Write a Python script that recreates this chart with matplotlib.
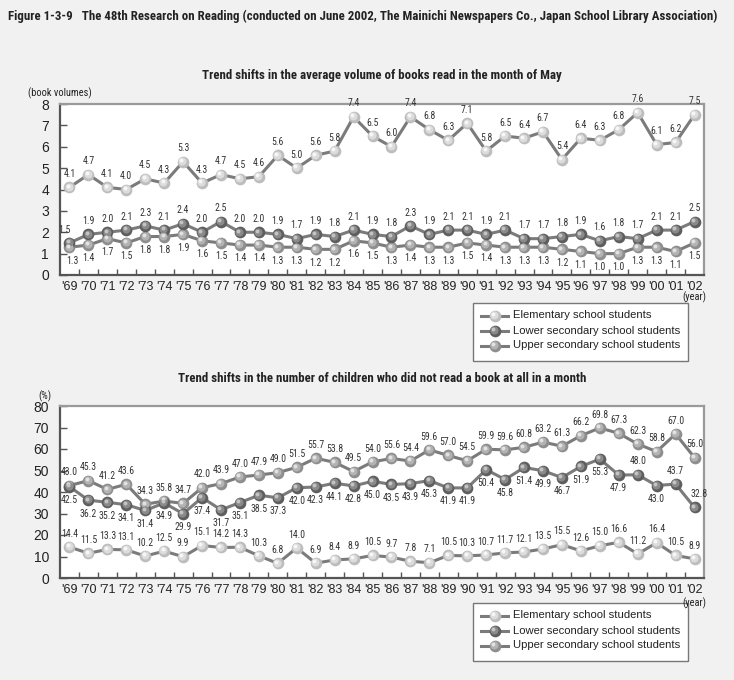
import matplotlib
matplotlib.use("Agg")
import matplotlib.pyplot as plt
from matplotlib import transforms
from matplotlib import font_manager as fm
from matplotlib.lines import Line2D
from matplotlib.patches import Rectangle

years = ["'69", "'70", "'71", "'72", "'73", "'74", "'75", "'76", "'77", "'78", "'79",
         "'80", "'81", "'82", "'83", "'84", "'85", "'86", "'87", "'88", "'89", "'90",
         "'91", "'92", "'93", "'94", "'95", "'96", "'97", "'98", "'99", "'00", "'01", "'02"]

series_names = ["Elementary school students", "Lower secondary school students",
                "Upper secondary school students"]

# Average volume of books read in May
vol_elem = [4.1, 4.7, 4.1, 4.0, 4.5, 4.3, 5.3, 4.3, 4.7, 4.5, 4.6, 5.6, 5.0, 5.6, 5.8, 7.4, 6.5,
            6.0, 7.4, 6.8, 6.3, 7.1, 5.8, 6.5, 6.4, 6.7, 5.4, 6.4, 6.3, 6.8, 7.6, 6.1, 6.2, 7.5]
vol_lower = [1.5, 1.9, 2.0, 2.1, 2.3, 2.1, 2.4, 2.0, 2.5, 2.0, 2.0, 1.9, 1.7, 1.9, 1.8, 2.1, 1.9,
             1.8, 2.3, 1.9, 2.1, 2.1, 1.9, 2.1, 1.7, 1.7, 1.8, 1.9, 1.6, 1.8, 1.7, 2.1, 2.1, 2.5]
vol_upper = [1.3, 1.4, 1.7, 1.5, 1.8, 1.8, 1.9, 1.6, 1.5, 1.4, 1.4, 1.3, 1.3, 1.2, 1.2, 1.6, 1.5,
             1.3, 1.4, 1.3, 1.3, 1.5, 1.4, 1.3, 1.3, 1.3, 1.2, 1.1, 1.0, 1.0, 1.3, 1.3, 1.1, 1.5]

# Percentage of children who did not read a book at all
none_elem = [14.4, 11.5, 13.3, 13.1, 10.2, 12.5, 9.9, 15.1, 14.2, 14.3, 10.3, 6.8, 14.0, 6.9, 8.4,
             8.9, 10.5, 9.7, 7.8, 7.1, 10.5, 10.3, 10.7, 11.7, 12.1, 13.5, 15.5, 12.6, 15.0, 16.6,
             11.2, 16.4, 10.5, 8.9]
none_lower = [42.5, 36.2, 35.2, 34.1, 31.4, 34.9, 29.9, 37.4, 31.7, 35.1, 38.5, 37.3, 42.0, 42.3,
              44.1, 42.8, 45.0, 43.5, 43.9, 45.3, 41.9, 41.9, 50.4, 45.8, 51.4, 49.9, 46.7, 51.9,
              55.3, 47.9, 48.0, 43.0, 43.7, 32.8]
none_upper = [43.0, 45.3, 41.2, 43.6, 34.3, 35.8, 34.7, 42.0, 43.9, 47.0, 47.9, 49.0, 51.5, 55.7,
              53.8, 49.5, 54.0, 55.6, 54.4, 59.6, 57.0, 54.5, 59.9, 59.6, 60.8, 63.2, 61.3, 66.2,
              69.8, 67.3, 62.3, 58.8, 67.0, 56.0]


# ---- pick a narrow font if one is installed ----
def pick_narrow():
    names = {f.name for f in fm.fontManager.ttflist}
    for cand in ('Liberation Sans Narrow', 'Roboto Condensed', 'Open Sans Condensed',
                 'DejaVu Sans Condensed', 'Noto Sans Condensed'):
        if cand in names:
            return dict(family=[cand, 'DejaVu Sans']), True
    for fam in ('DejaVu Sans', 'Noto Sans', 'Open Sans', 'Roboto'):
        try:
            path = fm.findfont(fm.FontProperties(family=fam, stretch='condensed'),
                               fallback_to_default=False)
            if 'ondensed' in path or 'arrow' in path:
                return dict(family=[fam], stretch='condensed'), True
        except Exception:
            pass
    return dict(family=['Liberation Sans', 'DejaVu Sans']), False


NARROW, HAVE_NARROW = pick_narrow()
REG = dict(family=['Liberation Sans', 'DejaVu Sans'])
plt.rcParams['font.family'] = ['Liberation Sans', 'DejaVu Sans']

LBL_FS = 7 if HAVE_NARROW else 6.3
TITLE_FS = 9.3 if HAVE_NARROW else 7.9

W, H = 734, 680
fig = plt.figure(figsize=(W / 100, H / 100), dpi=100)
fig.patch.set_facecolor('#f1f1f1')

LINE = '#7b7b7b'
styles = [  # base, mid, highlight
    ('#bdbdbd', '#dcdcdc', '#f7f7f7'),
    ('#5e5e5e', '#8a8a8a', '#c4c4c4'),
    ('#8e8e8e', '#b3b3b3', '#e2e2e2'),
]
MS = (8.4, 5.8, 2.8)


def px(x, y):
    return x / W, 1 - y / H


def draw_series(ax, vals, st):
    x = list(range(len(vals)))
    ax.plot(x, vals, color=LINE, lw=2.2, zorder=2)
    ax.plot(x, vals, ls='none', marker='o', ms=MS[0], mfc=st[0], mew=0, zorder=3)
    t1 = transforms.offset_copy(ax.transData, fig=fig, x=-0.5, y=0.5, units='points')
    ax.plot(x, vals, ls='none', marker='o', ms=MS[1], mfc=st[1], mew=0, zorder=4, transform=t1)
    t2 = transforms.offset_copy(ax.transData, fig=fig, x=-1.2, y=1.2, units='points')
    ax.plot(x, vals, ls='none', marker='o', ms=MS[2], mfc=st[2], mew=0, zorder=5, transform=t2)


def label_series(ax, vals, default, overrides=None, dy=6):
    overrides = overrides or {}
    for i, v in enumerate(vals):
        pos = overrides.get(i, default)
        dx = 0
        if isinstance(pos, tuple):
            pos, dx = pos
        off = dy if pos == 'above' else -dy
        va = 'bottom' if pos == 'above' else 'top'
        ax.annotate(f"{v:.1f}", (i, v), xytext=(dx, off),
                    textcoords='offset points', ha='center', va=va,
                    fontsize=LBL_FS, color='#333333', zorder=6, **NARROW)


def setup_axes(ax, ymax, step):
    ax.set_facecolor('white')
    ax.set_xlim(-0.5, len(years) - 0.5)
    ax.set_ylim(0, ymax)
    ax.set_yticks(range(0, ymax + 1, step))
    ax.set_xticks(range(len(years)))
    ax.set_xticklabels(years)
    ax.tick_params(axis='x', which='major', length=0, pad=4, labelsize=9, labelcolor='#222222')
    ax.set_xticks([i + 0.5 for i in range(len(years) - 1)], minor=True)
    ax.tick_params(axis='x', which='minor', direction='in', length=4, width=1, color='#555555')
    ax.tick_params(axis='y', direction='in', length=5, width=1, color='#555555',
                   labelsize=10, labelcolor='#222222', pad=8)
    for s in ('left', 'bottom'):
        ax.spines[s].set_color('#555555')
        ax.spines[s].set_linewidth(1.6)
    for s in ('top', 'right'):
        ax.spines[s].set_color('#9a9a9a')
        ax.spines[s].set_linewidth(1.6)


def add_legend(x0, y0, x1, y1):
    # framed key box drawn in figure pixel coordinates
    l, b = px(x0, y1)
    r, t = px(x1, y0)
    fig.patches.append(Rectangle((l, b), r - l, t - b, transform=fig.transFigure,
                                 facecolor='white', edgecolor='#777777', lw=1.0, zorder=1))
    for k, (name, st) in enumerate(zip(series_names, styles)):
        yc = y0 + 12.5 + 15 * k
        xa, xb, xm = 481, 508, 495
        fig.add_artist(Line2D([xa / W, xb / W], [1 - yc / H] * 2, transform=fig.transFigure,
                              color=LINE, lw=2.2, zorder=2))
        fig.add_artist(Line2D([xm / W], [1 - yc / H], transform=fig.transFigure, ls='none',
                              marker='o', ms=MS[0], mfc=st[0], mew=0, zorder=3))
        t1 = transforms.offset_copy(fig.transFigure, fig=fig, x=-0.5, y=0.5, units='points')
        fig.add_artist(Line2D([xm / W], [1 - yc / H], transform=t1, ls='none',
                              marker='o', ms=MS[1], mfc=st[1], mew=0, zorder=4))
        t2 = transforms.offset_copy(fig.transFigure, fig=fig, x=-1.2, y=1.2, units='points')
        fig.add_artist(Line2D([xm / W], [1 - yc / H], transform=t2, ls='none',
                              marker='o', ms=MS[2], mfc=st[2], mew=0, zorder=5))
        fig.text(513 / W, 1 - yc / H, name, fontsize=8.1, va='center', ha='left',
                 color='#222222', zorder=6, **REG)


# ---------------- Top chart ----------------
ax1 = fig.add_axes([60 / W, 1 - 275 / H, 644 / W, 171 / H])
setup_axes(ax1, 8, 1)
draw_series(ax1, vol_upper, styles[2])
draw_series(ax1, vol_lower, styles[1])
draw_series(ax1, vol_elem, styles[0])
label_series(ax1, vol_elem, 'above')
label_series(ax1, vol_lower, 'above', {0: ('above', -4)})
label_series(ax1, vol_upper, 'below', {0: ('below', 2)})

# ---------------- Bottom chart ----------------
ax2 = fig.add_axes([60 / W, 1 - 578 / H, 644 / W, 172 / H])
setup_axes(ax2, 80, 10)
draw_series(ax2, none_upper, styles[2])
draw_series(ax2, none_lower, styles[1])
draw_series(ax2, none_elem, styles[0])
label_series(ax2, none_elem, 'above')
label_series(ax2, none_upper, 'above')
label_series(ax2, none_lower, 'below', {30: 'above', 32: 'above', 33: ('above', 3)})

# ---------------- Texts ----------------
fig.text(*px(8, 16), "Figure 1-3-9   The 48th Research on Reading (conducted on June 2002, The Mainichi "
         "Newspapers Co., Japan School Library Association)", fontsize=TITLE_FS, fontweight='bold',
         va='center', ha='left', color='#222222', **NARROW)
fig.text(*px(382, 76), "Trend shifts in the average volume of books read in the month of May",
         fontsize=TITLE_FS, fontweight='bold', va='center', ha='center', color='#222222', **NARROW)
fig.text(*px(28, 93), "(book volumes)", fontsize=7.5, va='center', ha='left', color='#222222', **NARROW)
fig.text(*px(706, 297), "(year)", fontsize=7.5, va='center', ha='right', color='#222222', **NARROW)
fig.text(*px(382, 379), "Trend shifts in the number of children who did not read a book at all in a month",
         fontsize=TITLE_FS, fontweight='bold', va='center', ha='center', color='#222222', **NARROW)
fig.text(*px(45, 396), "(%)", fontsize=7.5, va='center', ha='center', color='#222222', **NARROW)
fig.text(*px(706, 603), "(year)", fontsize=7.5, va='center', ha='right', color='#222222', **NARROW)

add_legend(473, 303, 688, 361)
add_legend(473, 603, 688, 661)

fig.savefig("out.png", dpi=100, facecolor=fig.get_facecolor())
